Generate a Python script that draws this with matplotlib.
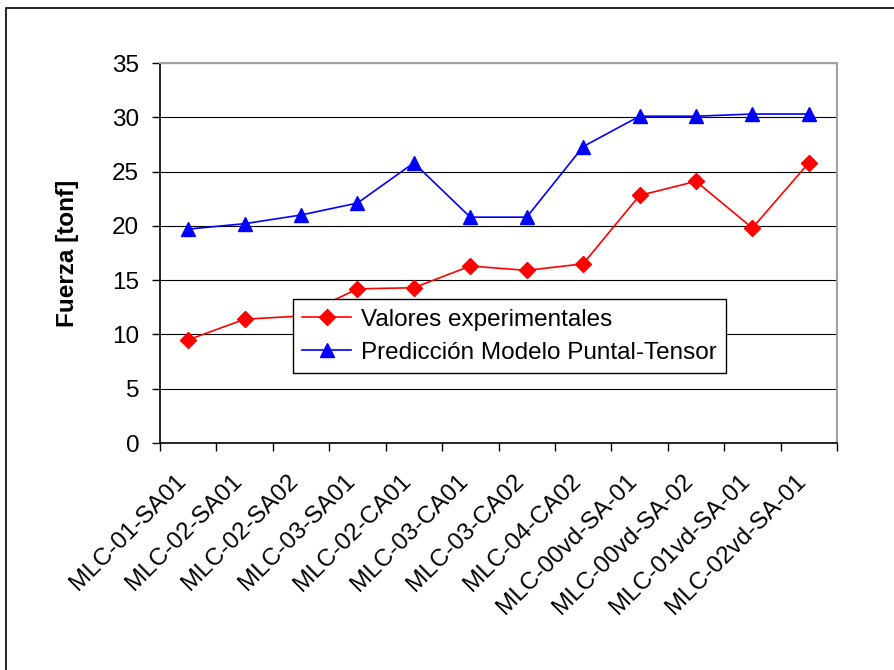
import matplotlib.pyplot as plt
import matplotlib.transforms as mtransforms
from matplotlib.patches import Rectangle
import numpy as np

plt.rcParams['font.family'] = ['Liberation Sans', 'DejaVu Sans']

ensayos = ['MLC-01-SA01', 'MLC-02-SA01', 'MLC-02-SA02', 'MLC-03-SA01',
           'MLC-02-CA01', 'MLC-03-CA01', 'MLC-03-CA02', 'MLC-04-CA02',
           'MLC-00vd-SA-01', 'MLC-00vd-SA-02', 'MLC-01vd-SA-01', 'MLC-02vd-SA-01']
experimental = [9.5, 11.4, 11.7, 14.2, 14.3, 16.3, 15.9, 16.5, 22.8, 24.1, 19.8, 25.8]
prediccion = [19.7, 20.2, 21.0, 22.1, 25.8, 20.8, 20.8, 27.3, 30.1, 30.1, 30.3, 30.3]

fs = 17.5

fig = plt.figure(figsize=(8.94, 6.7), dpi=100)
ax = fig.add_axes([160/894, 1 - 443/670, 677/894, 380/670])

# borde de la figura (recortado a la derecha y abajo)
fig.patches.append(Rectangle((6/894, -0.1), 1.2, (670 - 8)/670 + 0.1,
                             transform=fig.transFigure, fill=False,
                             edgecolor='black', linewidth=1.2))

x = np.arange(len(ensayos))
ax.plot(x, experimental, color='red', marker='D', markersize=8, linewidth=1.2,
        label='Valores experimentales')
ax.plot(x, prediccion, color='blue', marker='^', markersize=10, linewidth=1.2,
        label='Predicción Modelo Puntal-Tensor')

ax.set_xlim(-0.5, len(ensayos) - 0.5)
ax.set_ylim(0, 35)
ax.set_yticks(np.arange(0, 36, 5))
ax.yaxis.grid(True, color='black', linewidth=0.8)
ax.set_axisbelow(True)

ax.set_xticks(x)
ax.set_xticklabels(ensayos, rotation=45, ha='right', va='center',
                   rotation_mode='anchor')
ax.set_xticks(np.arange(-0.5, len(ensayos)), minor=True)
ax.tick_params(axis='x', which='major', length=0, pad=25, labelsize=fs)
ax.tick_params(axis='x', which='minor', length=6, width=1, direction='out')
ax.tick_params(axis='y', length=6, width=1, direction='out', labelsize=fs, pad=9)

shift = mtransforms.ScaledTranslation(-6/100, 0, fig.dpi_scale_trans)
for lab in ax.get_xticklabels():
    lab.set_transform(lab.get_transform() + shift)

for s in ['left', 'bottom']:
    ax.spines[s].set_color('black')
    ax.spines[s].set_linewidth(1.2)
for s in ['top', 'right']:
    ax.spines[s].set_color('#a0a0a0')
    ax.spines[s].set_linewidth(1.5)

ax.set_ylabel('Fuerza [tonf]', fontsize=fs, fontweight='bold', labelpad=24)

leg = ax.legend(loc='upper left', bbox_to_anchor=(0.196, 0.379), borderaxespad=0,
                fontsize=fs, fancybox=False, shadow=False, framealpha=1,
                edgecolor='black', handlelength=2.0, handletextpad=0.4,
                borderpad=0.4, labelspacing=0.45)
leg.get_frame().set_linewidth(1.0)

fig.savefig('out.png', dpi=100)
